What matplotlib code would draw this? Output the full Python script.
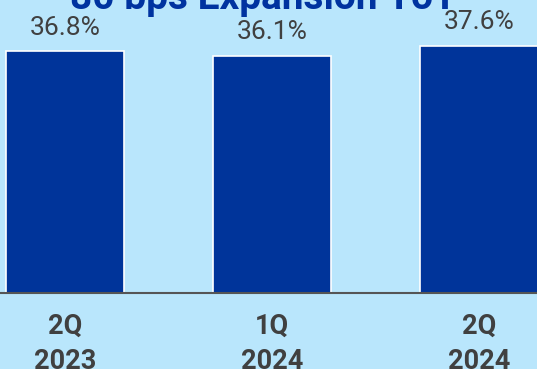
"""
operating margin by quarter, bar chart
"""

import matplotlib.pyplot as plt

plt.rcParams['font.family'] = ['Roboto', 'DejaVu Sans']

# chart data
quarters = ['2Q\n2023', '1Q\n2024', '2Q\n2024']
margins = [36.8, 36.1, 37.6]
title_text = '80 bps Expansion YoY'

BG = '#B9E6FC'
BAR = '#00349A'
GREY = '#404040'

fig = plt.figure(figsize=(5.37, 3.69), dpi=100, facecolor=BG)
ax = fig.add_axes([0, 0.2073, 1, 0.7927])
ax.set_facecolor(BG)

xs = list(range(len(quarters)))
bars = ax.bar(xs, margins, width=0.57, color=BAR, edgecolor='white', linewidth=1.2)

# value labels above each bar
for x, v in zip(xs, margins):
    ax.annotate(f'{v:.1f}%', (x, v), xytext=(0, 12.2), textcoords='offset points',
                ha='center', va='baseline', fontsize=19, color=GREY)

ax.set_xlim(-0.314, 2.28)
ax.set_ylim(0, 44.66)

ax.set_xticks(xs)
ax.set_xticklabels(quarters, fontsize=19.5, fontweight='bold', color=GREY, linespacing=1.4)
ax.tick_params(axis='x', length=0, pad=14.5)
ax.set_yticks([])

for side in ['top', 'right', 'left']:
    ax.spines[side].set_visible(False)
ax.spines['bottom'].set_color('#555555')
ax.spines['bottom'].set_linewidth(1.5)

# headline sits partly above the top edge
fig.text(0.49, 0.9756, title_text, ha='center', va='baseline', fontsize=28,
         fontweight='bold', color='#0033A0')

fig.savefig('out.png', dpi=100, facecolor=BG)
